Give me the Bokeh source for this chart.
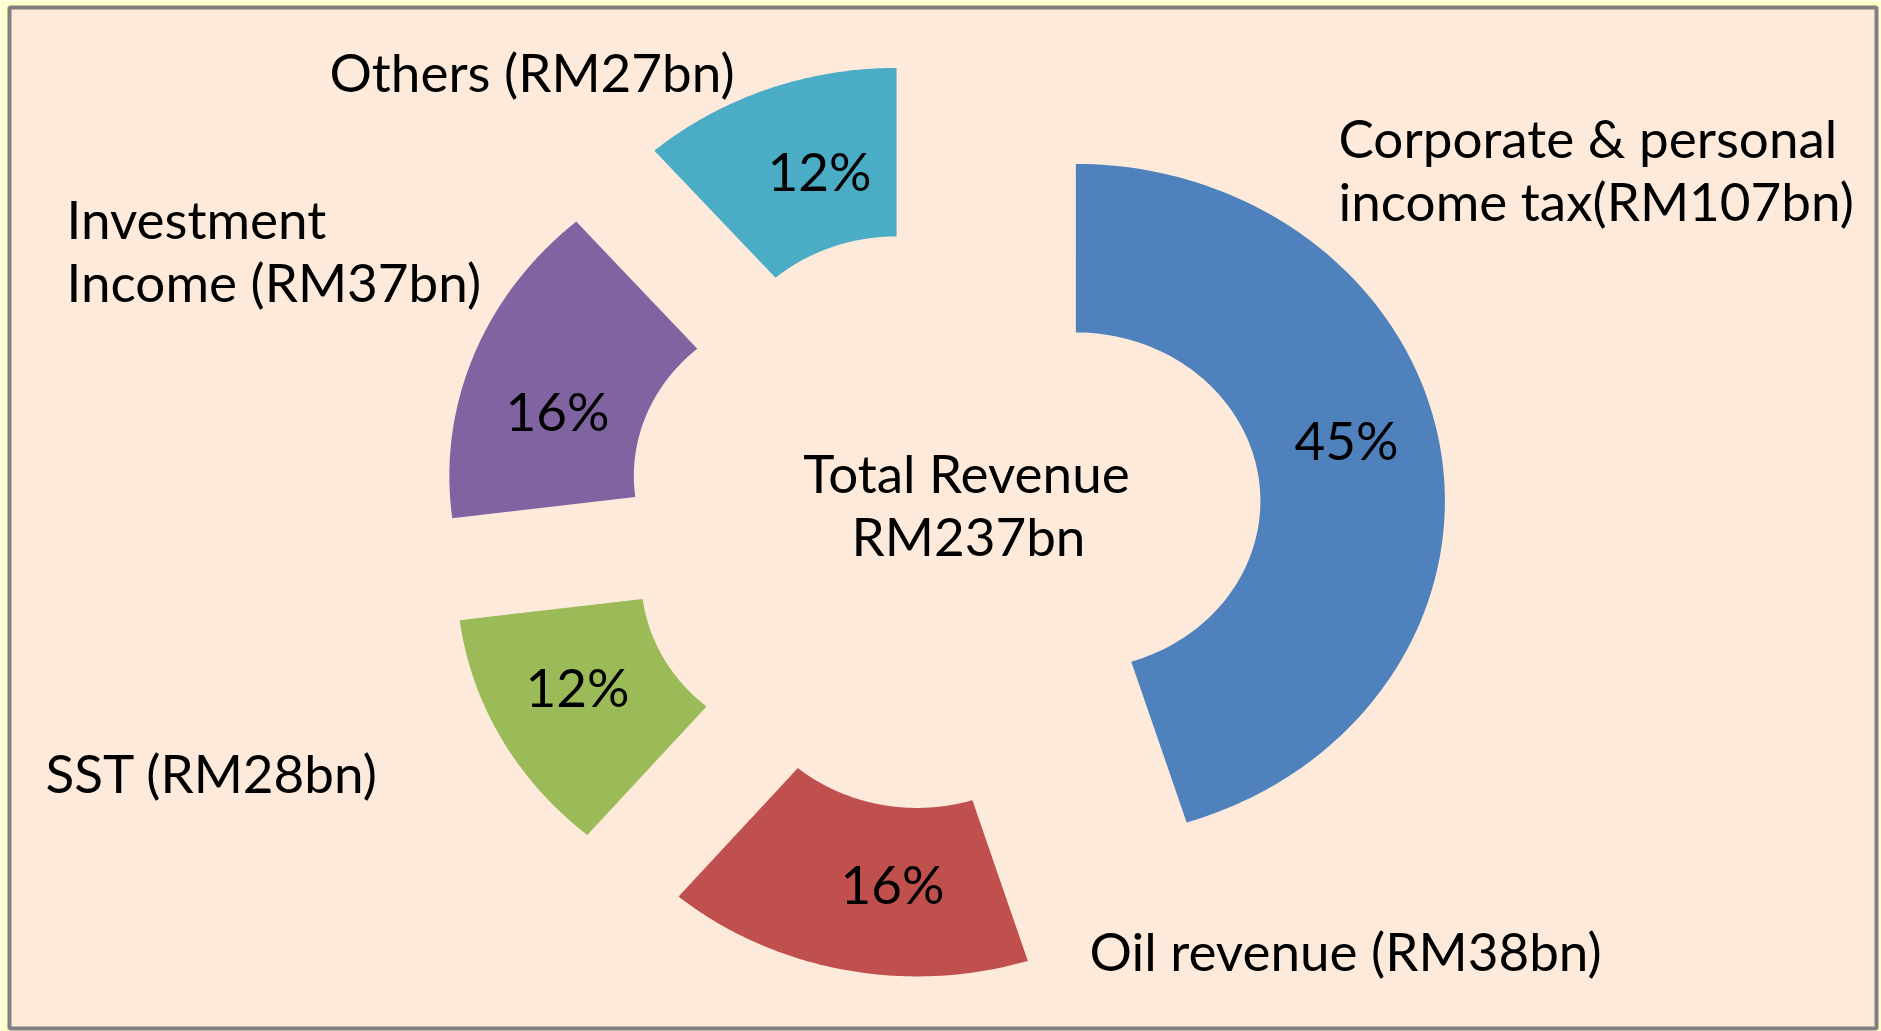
import numpy as np
from bokeh.plotting import figure
from bokeh.models import Range1d, ColumnDataSource
from bokeh.embed import file_html
from bokeh.resources import INLINE
from bokeh.core.properties import value

# ---------------- data ----------------
categories = ["Corporate & personal income tax", "Oil revenue", "SST",
              "Investment Income", "Others"]
revenue_bn = [107, 38, 28, 37, 27]
pct_labels = ["45%", "16%", "12%", "16%", "12%"]
name_line1 = ["Corporate & personal", "Oil revenue (RM38bn)", "SST (RM28bn)",
              "Investment", "Others (RM27bn)"]
name_line2 = ["income tax(RM107bn)", "", "", "Income (RM37bn)", ""]
total_lines = ["Total Revenue", "RM237bn"]
colors = ["#4F81BD", "#C0504D", "#9BBB59", "#8064A2", "#4BACC6"]

# ---------------- layout (pixels of the page) ----------------
W, H = 1881, 1031
BL, BT, BR, BB = 9, 7, 5, 3          # borders round the framed area
FX0, FY0 = BL, BT
FX1, FY1 = W - BR, H - BB
CX, CY = 943, 519          # pie centre on the page
SX, SY = 369.0, 337.0      # outer radius in px (x / y)
INNER = 0.5                # hole ratio
EXPLODE = 0.363            # explosion distance (outer radius units)


def to_data(px, py):
    return (px - CX) / SX, (CY - py) / SY


FONT = value("Lato")
FS = "53px"

p = figure(width=W, height=H, output_backend="svg", toolbar_location=None,
           x_axis_type=None, y_axis_type=None,
           x_range=Range1d((FX0 - CX) / SX, (FX1 - CX) / SX),
           y_range=Range1d((CY - FY1) / SY, (CY - FY0) / SY),
           min_border_left=BL, min_border_right=BR,
           min_border_top=BT, min_border_bottom=BB)
p.grid.visible = False
p.background_fill_color = "#FDEADA"
p.border_fill_color = "#FFFFCC"
p.outline_line_color = "#808080"
p.outline_line_width = 4

# ---------------- slices ----------------
vals = np.array(revenue_bn, dtype=float)
frac = vals / vals.sum()
ends = np.cumsum(frac) * 2 * np.pi
starts = ends - frac * 2 * np.pi
xs, ys = [], []
for a0, a1 in zip(starts, ends):
    mid = (a0 + a1) / 2
    ox, oy = EXPLODE * np.sin(mid), EXPLODE * np.cos(mid)
    t = np.linspace(a0, a1, 120)
    px_ = np.concatenate([np.sin(t), INNER * np.sin(t[::-1])]) + ox
    py_ = np.concatenate([np.cos(t), INNER * np.cos(t[::-1])]) + oy
    xs.append(list(px_))
    ys.append(list(py_))
p.patches(xs, ys, fill_color=colors, line_color=None)

# ---------------- text ----------------
def put(texts, pts, align):
    xx, yy = zip(*[to_data(a, b - 2) for a, b in pts])
    src = ColumnDataSource(dict(x=list(xx), y=list(yy), t=texts))
    p.text("x", "y", text="t", source=src, text_font=FONT, text_font_size=FS,
           text_align=align, text_baseline="alphabetic", text_color="#000000")

# percentage labels (centre x, visual centre y)
put(pct_labels, [(1346, 441), (892, 885), (577, 688), (557, 412), (819, 172)], "center")

# category labels (left x, visual centre y)
put(name_line1, [(1338, 139), (1089, 952), (45, 774), (66, 220), (329, 73)], "left")
l2 = [(t, pt) for t, pt in zip(name_line2, [(1338, 202), None, None, (66, 283), None]) if t]
put([a for a, _ in l2], [b for _, b in l2], "left")

# centre text
put(total_lines, [(966, 474), (968, 537)], "center")

open("out.html", "w").write(file_html(p, INLINE))
